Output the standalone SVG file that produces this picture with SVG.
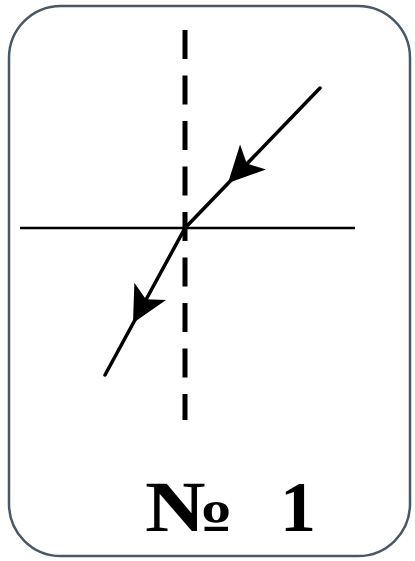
<svg xmlns="http://www.w3.org/2000/svg" width="415" height="561" viewBox="0 0 415 561">
<style>
.frame{fill:#ffffff;stroke:#4a5866;stroke-width:2.5}
.ray{stroke:#000;stroke-width:3.5;fill:none;stroke-linecap:round}
.axis{stroke:#000;stroke-width:2.5;fill:none}
.normal{stroke:#000;stroke-width:5;fill:none;stroke-dasharray:29 16.5}
.lbl{font-family:"Liberation Serif","DejaVu Serif",serif;font-weight:bold;font-size:72px;fill:#000}
</style>
<defs>
<path id="head" d="M0,0 L-36,-18 L-27,0 L-36,18 Z" fill="#000"/>
</defs>
<rect class="frame" x="9" y="6" width="401" height="550" rx="52" ry="52"/>
<g id="normal">
<line class="normal" x1="185" y1="30" x2="185" y2="420"/>
</g>
<g id="interface">
<line class="axis" x1="20" y1="228" x2="355" y2="228"/>
</g>
<g id="connectors">
<line class="ray" x1="320" y1="88" x2="185" y2="228"/>
<line class="ray" x1="185" y1="228" x2="105" y2="375"/>
<use href="#head" transform="translate(228,183) rotate(134)"/>
<use href="#head" transform="translate(133,323) rotate(118.5)"/>
</g>
<g id="label">
<text class="lbl" x="145" y="531" textLength="90" lengthAdjust="spacingAndGlyphs">№</text>
<text class="lbl" x="280" y="531">1</text>
</g>
</svg>
